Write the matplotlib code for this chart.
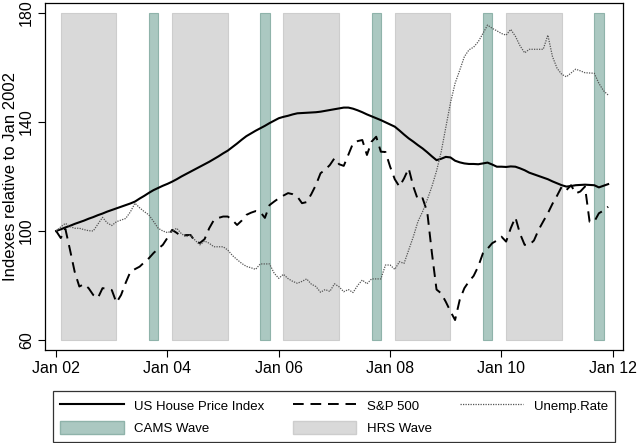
import matplotlib
matplotlib.use("Agg")
import matplotlib.pyplot as plt
from matplotlib.patches import Patch
from matplotlib.lines import Line2D

plt.rcParams['font.family'] = ['Liberation Sans', 'DejaVu Sans']

# months since Jan 2002
months = list(range(120))

house_price = [
    100.0, 100.6, 101.3, 101.9, 102.6, 103.2, 103.8, 104.5, 105.1, 105.8,
    106.4, 107.1, 107.7, 108.3, 108.9, 109.5, 110.1, 110.8, 111.9, 112.9,
    114.0, 115.0, 115.8, 116.6, 117.3, 118.1, 119.0, 120.0, 120.9, 121.8,
    122.7, 123.6, 124.5, 125.4, 126.4, 127.4, 128.5, 129.5, 130.8, 132.1,
    133.5, 134.8, 135.8, 136.8, 137.7, 138.6, 139.6, 140.5, 141.4, 141.9,
    142.3, 142.8, 143.2, 143.3, 143.4, 143.5, 143.6, 143.8, 144.1, 144.4,
    144.7, 145.0, 145.3, 145.3, 144.9, 144.3, 143.6, 142.8, 142.1, 141.4,
    140.7, 139.9, 139.1, 138.3, 136.9, 135.4, 134.0, 132.8, 131.5, 130.3,
    128.9, 127.4, 126.0, 126.5, 127.2, 127.0, 125.8, 125.2, 124.8, 124.6,
    124.6, 124.5, 124.8, 125.1, 124.4, 123.6, 123.6, 123.5, 123.7, 123.6,
    123.0, 122.3, 121.4, 120.8, 120.2, 119.6, 119.0, 118.2, 117.5, 116.8,
    116.3, 116.5, 116.8, 116.9, 117.0, 116.9, 116.8, 116.0, 116.6, 117.2,
]

sp500 = [
    100.0, 97.4, 100.7, 93.0, 85.0, 79.6, 80.5, 79.0, 76.5, 75.4,
    79.0, 78.8, 78.3, 73.7, 76.5, 81.0, 85.0, 86.0, 86.9, 88.5,
    90.0, 91.9, 93.5, 94.9, 97.5, 100.4, 99.3, 98.0, 98.5, 98.5,
    96.0, 95.6, 97.0, 101.0, 104.0, 104.8, 105.3, 105.3, 104.0, 102.2,
    103.8, 105.9, 106.7, 107.3, 107.0, 104.8, 109.5, 110.8, 112.0, 113.0,
    113.9, 113.5, 112.6, 110.2, 110.6, 113.5, 116.9, 121.2, 122.5, 124.2,
    126.7, 124.5, 123.9, 128.0, 132.2, 133.0, 133.4, 127.9, 132.8, 134.6,
    129.1, 129.0, 123.6, 119.0, 116.3, 119.3, 123.0, 116.3, 111.4, 112.0,
    107.0, 92.0, 78.5, 77.1, 74.0, 70.5, 67.3, 74.7, 79.0, 81.5,
    83.5, 87.0, 91.8, 93.5, 95.5, 96.5, 97.9, 96.1, 101.0, 105.0,
    99.0, 94.9, 94.9, 96.5, 100.4, 103.5, 106.5, 110.0, 113.0, 116.3,
    115.0, 116.8, 113.8, 114.5, 116.3, 103.4, 103.4, 106.5, 107.5, 108.9,
]

unemp = [
    100.0, 101.5, 102.8, 101.6, 101.0, 101.0, 100.5, 100.1, 100.0, 102.5,
    105.0, 103.0, 102.0, 103.4, 104.0, 104.6, 107.0, 110.2, 108.5, 107.1,
    105.9, 103.5, 101.0, 100.0, 99.4, 100.0, 101.0, 99.0, 97.9, 98.5,
    96.5, 94.9, 96.3, 95.5, 94.2, 94.2, 94.2, 93.0, 91.0, 89.5,
    88.1, 87.0, 86.5, 85.9, 87.9, 87.9, 87.9, 84.5, 82.6, 84.1,
    82.5, 81.5, 80.8, 81.5, 82.4, 80.5, 79.6, 77.5, 78.5, 77.8,
    80.6, 79.5, 77.7, 78.5, 77.4, 80.0, 82.0, 80.6, 82.4, 82.4,
    82.4, 87.5, 87.5, 85.9, 88.7, 88.1, 93.0, 97.9, 103.5, 107.1,
    111.5, 116.3, 122.0, 129.0, 138.0, 147.0, 154.2, 159.0, 164.0, 166.5,
    167.5, 169.5, 172.5, 175.6, 174.4, 173.5, 172.5, 171.9, 174.0, 171.5,
    168.0, 165.4, 166.7, 166.7, 166.7, 166.7, 171.9, 164.0, 159.7, 157.5,
    156.6, 158.0, 159.4, 158.8, 158.1, 158.0, 157.9, 154.2, 151.5, 149.9,
]

# survey waves (start, end) in months since Jan 2002
hrs_start = [1, 25, 49, 73, 97]
hrs_end = [13, 37, 61, 85, 109]
cams_start = [20, 44, 68, 92, 116]
cams_end = [22, 46, 70, 94, 118]

tick_pos = [0, 24, 48, 72, 96, 120]
tick_labels = ['Jan 02', 'Jan 04', 'Jan 06', 'Jan 08', 'Jan 10', 'Jan 12']

gray = '#d9d9d9'
teal = '#abc8c1'

fig = plt.figure(figsize=(6.37, 4.43), dpi=100)
ax = fig.add_axes([45 / 637, 93 / 443, 578 / 637, 347 / 443])

hrs_w = [e - s for s, e in zip(hrs_start, hrs_end)]
cams_w = [e - s for s, e in zip(cams_start, cams_end)]
ax.bar(hrs_start, [120] * 5, width=hrs_w, bottom=60, align='edge',
       color=gray, edgecolor='#cdcdcd', linewidth=0.8, zorder=1)
ax.bar(cams_start, [120] * 5, width=cams_w, bottom=60, align='edge',
       color=teal, edgecolor='#8fb3aa', linewidth=0.8, zorder=1)

ax.plot(months, house_price, color='black', lw=1.5, zorder=3)
ax.plot(months, sp500, color='black', lw=1.4, ls=(0, (5.5, 3.5)), zorder=3)
ax.plot(months, unemp, color='#555555', lw=0.9, ls=(0, (1, 1)), zorder=3)

ax.set_xlim(-2.4, 122.2)
ax.set_ylim(56.3, 183.7)
ax.set_xticks(tick_pos)
ax.set_xticklabels(tick_labels, fontsize=11.5)
ax.set_yticks([60, 100, 140, 180])
ax.set_yticklabels(['60', '100', '140', '180'], fontsize=11.5,
                   rotation=90, va='center')
ax.tick_params(direction='out', length=5, width=0.8, pad=3)
ax.set_ylabel('Indexes relative to Jan 2002', fontsize=12)
ax.yaxis.set_label_coords(-0.047, 0.5)
for sp in ax.spines.values():
    sp.set_linewidth(0.9)

handles = [
    Line2D([], [], color='black', lw=1.5),
    Patch(facecolor=teal, edgecolor='#8fb3aa'),
    Line2D([], [], color='black', lw=1.4, ls=(0, (5.5, 3.5))),
    Patch(facecolor=gray, edgecolor='#cdcdcd'),
    Line2D([], [], color='#555555', lw=0.9, ls=(0, (1, 1))),
]
labels = ['US House Price Index', 'CAMS Wave', 'S&P 500', 'HRS Wave', 'Unemp.Rate']
leg = fig.legend(handles, labels, ncol=3, loc='lower left',
                 bbox_to_anchor=(53 / 637, 1 / 443, 562 / 637, 54 / 443),
                 mode='expand', fontsize=9.5, handlelength=4.8,
                 handleheight=1.2, frameon=True, fancybox=False,
                 borderaxespad=0, borderpad=0.55, columnspacing=1.5,
                 labelspacing=0.6)
leg.get_frame().set_edgecolor('black')
leg.get_frame().set_linewidth(0.9)

fig.savefig('out.png', dpi=100)
